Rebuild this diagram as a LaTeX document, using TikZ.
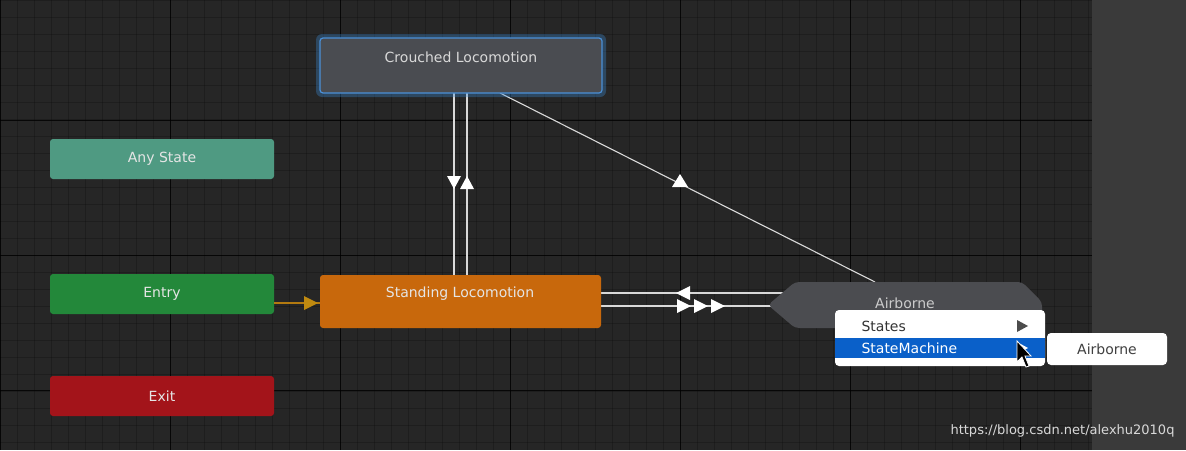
\documentclass[tikz,border=0pt]{standalone}
\usepackage{fontspec}
\setmainfont{DejaVu Sans}
\definecolor{bg}{HTML}{262626}
\definecolor{side}{HTML}{3a3a3a}
\definecolor{glow}{HTML}{3c88d0}
\definecolor{crb}{HTML}{4a90d8}
\definecolor{crf}{HTML}{4a4c51}
\definecolor{anyc}{HTML}{4f9a82}
\definecolor{entc}{HTML}{23883a}
\definecolor{exc}{HTML}{a3141a}
\definecolor{slc}{HTML}{c8680c}
\definecolor{enl}{HTML}{b37a10}
\definecolor{ena}{HTML}{c08a10}
\definecolor{abc}{HTML}{4b4c50}
\definecolor{selc}{HTML}{0a60c9}
\begin{document}
\begin{tikzpicture}[x=1pt,y=-1pt,
 st/.style={rounded corners=3pt,text=white!90!black,font=\fontsize{14}{16}\selectfont},
 ln/.style={draw=white!85!black,line width=1.3pt},
 tri/.style={fill=white,draw=none},
 mtxt/.style={font=\fontsize{14}{16}\selectfont,anchor=west}]
\useasboundingbox (0,0) rectangle (1186,450);
\fill[bg] (0,0) rectangle (1186,450);
\foreach \x in {0,17,...,1092} \draw[black,line width=0.4pt,opacity=0.2] (\x,0) -- (\x,450);
\foreach \y in {0,17,...,450} \draw[black,line width=0.4pt,opacity=0.2] (0,\y) -- (1092,\y);
\foreach \x in {0,170,...,1092} \draw[black,line width=0.8pt,opacity=0.8] (\x,0) -- (\x,450);
\foreach \y in {-15,120,...,450} \draw[black,line width=0.8pt,opacity=0.8] (0,\y) -- (1092,\y);
\fill[side] (1092,0) rectangle (1186,450);
% connectors (behind nodes)
\coordinate (d1) at (454,93); \coordinate (d2) at (454,275);
\coordinate (u1) at (467,275); \coordinate (u2) at (467,93);
\draw[ln] (d1) -- (d2); \draw[ln] (u1) -- (u2);
\fill[tri] (447,176) -- (461,176) -- (454,189) -- cycle;
\fill[tri] (460,189) -- (474,189) -- (467,176) -- cycle;
\coordinate (c1) at (500,93); \coordinate (c2) at (875,282);
\draw[ln,line width=1.1pt] (c1) -- (c2);
\fill[tri] (672,187) -- (688,187) -- (680,174) -- cycle;
\coordinate (h1) at (601,293); \coordinate (h2) at (785,293);
\coordinate (g1) at (601,306); \coordinate (g2) at (775,306);
\draw[ln] (h1) -- (h2); \draw[ln] (g1) -- (g2);
\fill[tri] (676,293) -- (690,286) -- (690,300) -- cycle;
\foreach \a in {677,694,711} \fill[tri] (\a,299) -- (\a,313) -- (\a+14,306) -- cycle;
% nodes
\fill[glow,opacity=0.35,rounded corners=6pt] (316,34) rectangle (606,97);
\node[st,draw=crb,line width=1.2pt,fill=crf,minimum width=282pt,minimum height=55pt] (cr) at (461,65.5) {};
\node[font=\fontsize{14}{16}\selectfont,text=white!85!black] at (461,57) {Crouched Locomotion};
\node[st,fill=anyc,minimum width=224pt,minimum height=40pt] (any) at (162,159) {Any State};
\node[st,fill=entc,minimum width=224pt,minimum height=40pt] (en) at (162,294) {Entry};
\node[st,fill=exc,minimum width=224pt,minimum height=40pt] (ex) at (162,396) {Exit};
\node[st,fill=slc,minimum width=281pt,minimum height=53pt] (sl) at (460.5,301.5) {};
\node[font=\fontsize{14}{16}\selectfont,text=white!90!black] at (460,294) {Standing Locomotion};
\draw[enl,line width=1.3pt] ([yshift=-9pt]en.east) -- ([yshift=-1.5pt]sl.west);
\fill[ena] (304,296) -- (304,310) -- (318,303) -- cycle;
\fill[abc,rounded corners=4pt] (768,305) -- (795,282) -- (1022,282) -- (1042,302) -- (1042,318) -- (1020,328) -- (795,328) -- cycle;
\node (ab) at (768,305) {};
\node[font=\fontsize{14}{16}\selectfont,text=white!80!black] at (905,303) {Airborne};
% menu
\fill[white,rounded corners=4pt] (835,310) rectangle (1045,366);
\fill[selc] (835,338) rectangle (1045,358);
\node[mtxt,text=black!80] at (858,326) {States};
\node[mtxt,text=white] at (858,348) {StateMachine};
\fill[black!70] (1017,320) -- (1017,332) -- (1028,326) -- cycle;
\fill[white] (1017,342) -- (1017,354) -- (1028,348) -- cycle;
\fill[white,rounded corners=4pt] (1047,333) rectangle (1167,365);
\node[font=\fontsize{14}{16}\selectfont,text=black!75] at (1107,349) {Airborne};
\filldraw[fill=black,draw=white,line width=0.8pt] (1017,341) -- (1017,362) -- (1022,357) -- (1026,367) -- (1029,366) -- (1025,356) -- (1031,356) -- cycle;
\node[font=\fontsize{13}{15}\selectfont,text=white!85!black,anchor=east] at (1178,431) {https://blog.csdn.net/alexhu2010q};
\end{tikzpicture}
\end{document}
